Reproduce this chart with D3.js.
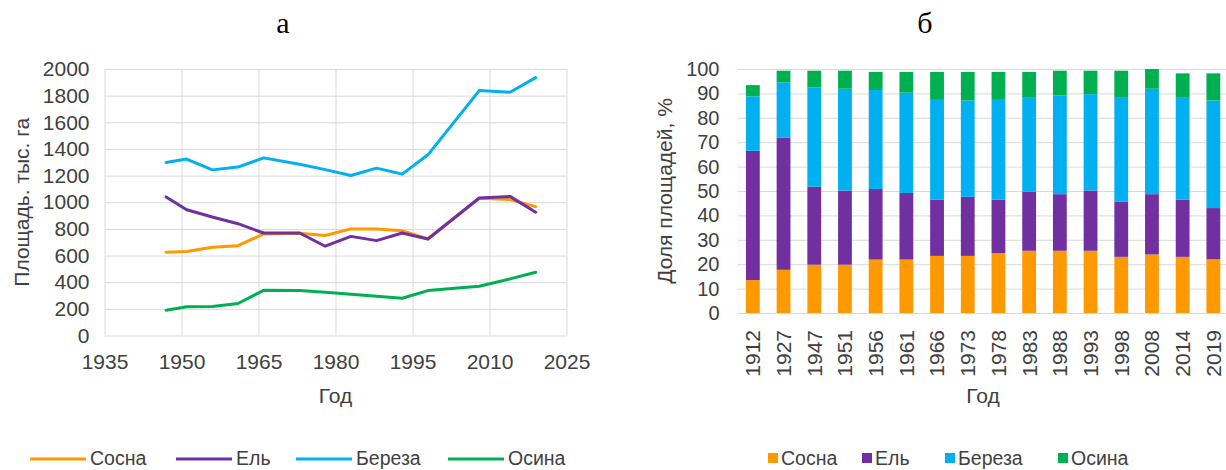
<!DOCTYPE html>
<html>
<head>
<meta charset="utf-8">
<script src="https://cdn.jsdelivr.net/npm/d3@7"></script>
<style>
  html, body { margin: 0; padding: 0; background: #fff; }
  svg { display: block; }
  text { font-family: "Liberation Sans", Arial, sans-serif; fill: #404040; }
  .panel-label { font-family: "Liberation Serif", "Times New Roman", serif; fill: #000; }
</style>
</head>
<body>
<svg id="chart" width="1226" height="470"></svg>
<script>
// Species (legend order) and their colours
const species = ["Сосна", "Ель", "Береза", "Осина"];
const colors = ["#ff9900", "#7030a0", "#00b0f0", "#00b050"];

// Panel а: forest area by species, thousand ha
const areaYears = [1947, 1951, 1956, 1961, 1966, 1973, 1978, 1983, 1988, 1993, 1998, 2008, 2014, 2019];
const areaPine   = [625, 630, 662, 674, 762, 767, 750, 800, 800, 787, 724, 1030, 1020, 967];
const areaSpruce = [1040, 944, 889, 839, 769, 769, 670, 744, 712, 769, 724, 1032, 1044, 925];
const areaBirch  = [1298, 1324, 1243, 1264, 1333, 1285, 1245, 1201, 1256, 1211, 1356, 1838, 1826, 1935];
const areaAspen  = [190, 215, 217, 240, 339, 337, 325, 310, 294, 280, 337, 370, 425, 475];
const areaXTicks = [1935, 1950, 1965, 1980, 1995, 2010, 2025];
const areaYTicks = [0, 200, 400, 600, 800, 1000, 1200, 1400, 1600, 1800, 2000];

// Panel б: share of area by species, %
const shareYears = ["1912", "1927", "1947", "1951", "1956", "1961", "1966", "1973", "1978", "1983", "1988", "1993", "1998", "2008", "2014", "2019"];
const sharePine   = [13.5, 17.7, 19.8, 19.8, 21.9, 21.9, 23.4, 23.4, 24.5, 25.5, 25.5, 25.5, 23.0, 24.0, 23.0, 22.0];
const shareSpruce = [53.0, 54.1, 32.0, 30.4, 28.9, 27.3, 23.1, 24.2, 22.0, 24.2, 23.2, 24.7, 22.6, 24.7, 23.5, 21.0];
const shareBirch  = [22.3, 22.7, 40.7, 41.7, 40.6, 41.1, 41.2, 39.5, 41.2, 38.5, 40.5, 39.5, 42.6, 43.2, 41.7, 44.1];
const shareAspen  = [4.6, 4.8, 6.8, 7.4, 7.4, 8.5, 11.1, 11.7, 11.1, 10.6, 10.1, 9.6, 11.1, 8.1, 10.0, 11.1];
const shareYTicks = [0, 10, 20, 30, 40, 50, 60, 70, 80, 90, 100];

const svg = d3.select("#chart");
const grid = "#d9d9d9";
const fmt = d3.format("d");

// Panel letters
svg.append("text").attr("class", "panel-label").attr("x", 283).attr("y", 33)
  .attr("text-anchor", "middle").style("font-size", "30px").text("а");
svg.append("text").attr("class", "panel-label").attr("x", 925).attr("y", 33)
  .attr("text-anchor", "middle").style("font-size", "30px").text("б");

// ---------- Panel а: line chart ----------
{
  const x = d3.scaleLinear().domain([1935, 2025]).range([104.5, 566.5]);
  const y = d3.scaleLinear().domain([0, 2000]).range([335.5, 69]);
  const g = svg.append("g");

  // horizontal gridlines + y labels
  const yAxis = d3.axisLeft(y).tickValues(areaYTicks).tickFormat(fmt)
    .tickSize(-(x.range()[1] - x.range()[0])).tickPadding(15);
  const ya = g.append("g").attr("transform", `translate(${x.range()[0]},0)`).call(yAxis);
  ya.select(".domain").remove();
  ya.selectAll("line").attr("stroke", grid);
  ya.selectAll("text").style("font-size", "21px").attr("fill", "#404040");

  // vertical gridlines + x labels
  const xAxis = d3.axisBottom(x).tickValues(areaXTicks).tickFormat(fmt)
    .tickSize(-(y.range()[0] - y.range()[1])).tickPadding(19);
  const xa = g.append("g").attr("transform", `translate(0,${y.range()[0]})`).call(xAxis);
  xa.select(".domain").remove();
  xa.selectAll("line").attr("stroke", grid);
  xa.selectAll("text").style("font-size", "21px").attr("fill", "#404040");

  const series = [areaPine, areaSpruce, areaBirch, areaAspen];
  const line = d3.line().x((d, i) => x(areaYears[i])).y(d => y(d));
  series.forEach((vals, k) => {
    g.append("path").datum(vals).attr("d", line)
      .attr("fill", "none").attr("stroke", colors[k]).attr("stroke-width", 3)
      .attr("stroke-linejoin", "round").attr("stroke-linecap", "round");
  });

  g.append("text").attr("x", (x.range()[0] + x.range()[1]) / 2).attr("y", 403)
    .attr("text-anchor", "middle").style("font-size", "21px").text("Год");
  g.append("text").attr("transform", `translate(29,${(y.range()[0] + y.range()[1]) / 2}) rotate(-90)`)
    .attr("text-anchor", "middle").style("font-size", "21px").text("Площадь. тыс. га");

  // legend
  const legX = [30, 176, 296, 448];
  species.forEach((s, k) => {
    g.append("line").attr("x1", legX[k]).attr("x2", legX[k] + 56).attr("y1", 459).attr("y2", 459)
      .attr("stroke", colors[k]).attr("stroke-width", 3);
    g.append("text").attr("x", legX[k] + 60).attr("y", 465).style("font-size", "19.5px").text(s);
  });
}

// ---------- Panel б: stacked bars ----------
{
  const x = d3.scaleBand().domain(shareYears).range([737.5, 1228.7]).paddingInner(0.55).paddingOuter(0.275);
  const y = d3.scaleLinear().domain([0, 100]).range([313, 69]);
  const g = svg.append("g");

  const yAxis = d3.axisLeft(y).tickValues(shareYTicks).tickFormat(fmt)
    .tickSize(-(x.range()[1] - x.range()[0])).tickPadding(18);
  const ya = g.append("g").attr("transform", `translate(${x.range()[0]},0)`).call(yAxis);
  ya.select(".domain").remove();
  ya.selectAll("line").attr("stroke", grid);
  ya.selectAll("text").style("font-size", "20px").attr("fill", "#404040");

  const rows = shareYears.map((yr, i) => ({
    year: yr, "Сосна": sharePine[i], "Ель": shareSpruce[i], "Береза": shareBirch[i], "Осина": shareAspen[i]
  }));
  const stacked = d3.stack().keys(species)(rows);
  stacked.forEach((layer, k) => {
    g.append("g").attr("fill", colors[k]).selectAll("rect").data(layer).join("rect")
      .attr("x", d => x(d.data.year)).attr("width", x.bandwidth())
      .attr("y", d => y(d[1])).attr("height", d => y(d[0]) - y(d[1]));
  });

  // rotated year labels
  g.append("g").selectAll("text").data(shareYears).join("text")
    .attr("transform", d => `translate(${x(d) + x.bandwidth() / 2},330) rotate(-90)`)
    .attr("text-anchor", "end").attr("dy", "0.35em").style("font-size", "21px").text(d => d);

  g.append("text").attr("x", (x.range()[0] + x.range()[1]) / 2).attr("y", 403)
    .attr("text-anchor", "middle").style("font-size", "21px").text("Год");
  g.append("text").attr("transform", `translate(672,${(y.range()[0] + y.range()[1]) / 2}) rotate(-90)`)
    .attr("text-anchor", "middle").style("font-size", "21px").text("Доля площадей,  %");

  // legend
  const legX = [768, 862, 945, 1058];
  species.forEach((s, k) => {
    g.append("rect").attr("x", legX[k]).attr("y", 453).attr("width", 10).attr("height", 10).attr("fill", colors[k]);
    g.append("text").attr("x", legX[k] + 13).attr("y", 465).style("font-size", "19.5px").text(s);
  });
}
</script>
</body>
</html>
